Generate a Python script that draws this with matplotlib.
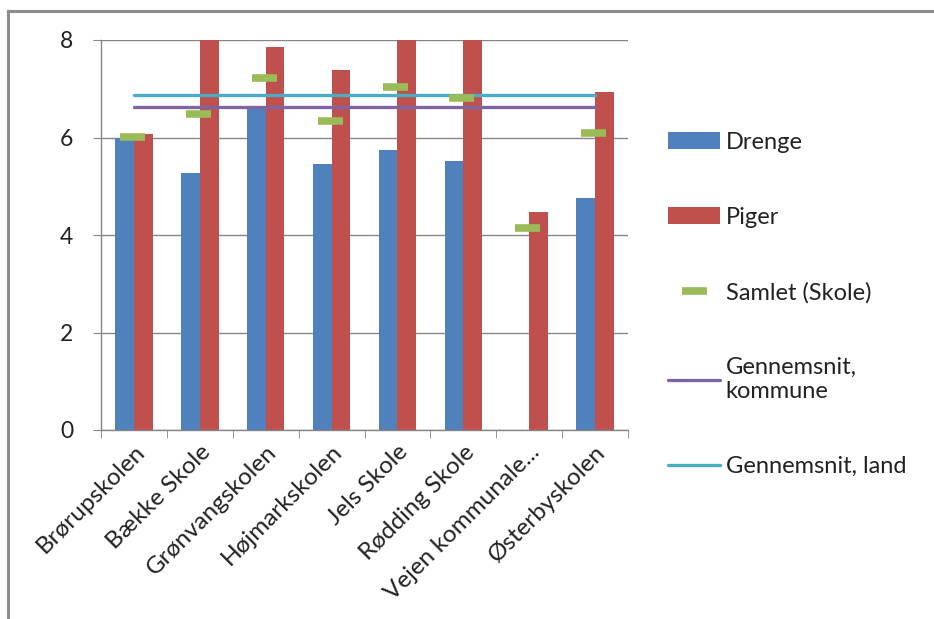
import numpy as np
import matplotlib
matplotlib.use("Agg")
from matplotlib import pyplot as plt
from matplotlib.lines import Line2D

plt.rcParams['font.family'] = ['Lato', 'DejaVu Sans']

skoler = ["Brørupskolen", "Bække Skole", "Grønvangskolen", "Højmarkskolen",
          "Jels Skole", "Rødding Skole", "Vejen kommunale...", "Østerbyskolen"]
drenge = [6.00, 5.28, 6.63, 5.46, 5.75, 5.51, 0.0, 4.75]
piger = [6.07, 8.40, 7.85, 7.38, 8.40, 8.40, 4.47, 6.93]
samlet = [6.02, 6.49, 7.23, 6.33, 7.04, 6.81, 4.14, 6.09]
snit_kommune = [6.63] * 8
snit_land = [6.87] * 8
yticks = [0, 2, 4, 6, 8]

blaa = "#4F81BD"
roed = "#C0504D"
groen = "#9BBB59"
lilla = "#8064A2"
turkis = "#4BACC6"
graa = "#868686"

fig = plt.figure(figsize=(9.34, 6.19), dpi=100)
ax = fig.add_axes([101/934, 1 - 430/619, (628-101)/934, 390/619])

x = np.arange(len(skoler))
w = 0.285
b1 = ax.bar(x - w/2, drenge, w, color=blaa, label="Drenge", zorder=2)
b2 = ax.bar(x + w/2, piger, w, color=roed, label="Piger", zorder=2)
l1, = ax.plot(x - 0.03, samlet, linestyle="none", marker="_", markersize=18,
              markeredgewidth=5.5, color=groen, label="Samlet (Skole)", zorder=4)
l2, = ax.plot(x, snit_kommune, color=lilla, lw=2.4, solid_capstyle="round",
              label="Gennemsnit,\nkommune", zorder=3)
l3, = ax.plot(x, snit_land, color=turkis, lw=2.4, solid_capstyle="round",
              label="Gennemsnit, land", zorder=3)

ax.set_xlim(-0.5, len(skoler) - 0.5)
ax.set_ylim(0, 8)
ax.set_yticks(yticks)
ax.yaxis.grid(True, color=graa, lw=1.0)
ax.set_axisbelow(True)
for s in ["top", "right"]:
    ax.spines[s].set_visible(False)
for s in ["left", "bottom"]:
    ax.spines[s].set_color(graa)
    ax.spines[s].set_linewidth(1.0)
ax.tick_params(axis="y", length=6, color=graa, labelsize=16.5, pad=14,
               labelcolor="#222222")
ax.set_xticks(x)
ax.set_xticks(np.arange(-0.5, len(skoler), 1), minor=True)
ax.tick_params(axis="x", which="major", length=0, pad=8)
ax.tick_params(axis="x", which="minor", length=6, color=graa)
ax.set_xticklabels(skoler, rotation=45, ha="right", va="top",
                   rotation_mode="anchor", fontsize=17.5, color="#222222")

handles = [b1, b2, l1, l2, l3]
ax.legend(handles=handles, labels=[h.get_label() for h in handles],
          loc="upper left", bbox_to_anchor=(668/934, 1 - 132/619),
          bbox_transform=fig.transFigure, frameon=False, fontsize=17,
          handlelength=2.2, handletextpad=0.25, labelspacing=2.28,
          labelcolor="#222222", numpoints=1, borderpad=0, borderaxespad=0)

# ramme
fig.add_artist(Line2D([8/934, 1], [1 - 11/619] * 2, color="#8c8c8c", lw=2.2))
fig.add_artist(Line2D([8/934] * 2, [0, 1 - 11/619], color="#8c8c8c", lw=2.2))

plt.savefig("out.png", dpi=100)
